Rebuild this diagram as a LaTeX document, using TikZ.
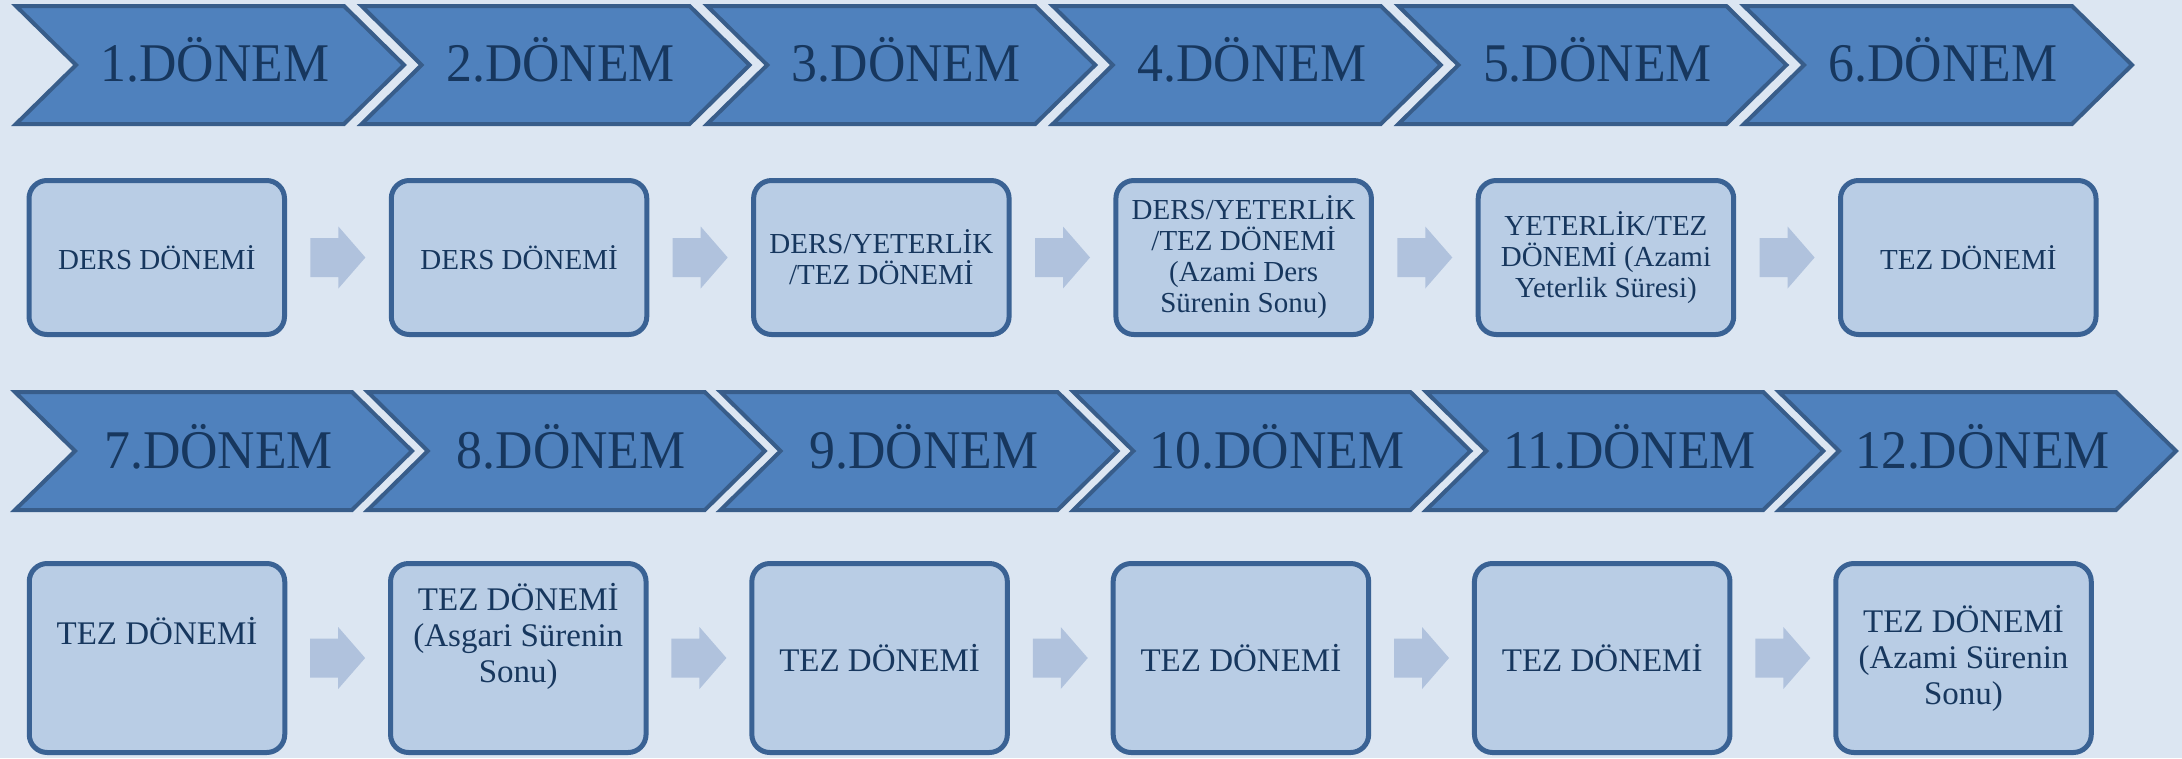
\documentclass[tikz,border=0pt]{standalone}
\usepackage{fontspec}
\setmainfont{Liberation Serif}
\newfontfamily\chevfont[FakeStretch=0.95]{Liberation Serif}
\usetikzlibrary{calc}
\definecolor{bgc}{HTML}{DCE6F2}
\definecolor{chevfill}{HTML}{4F81BD}
\definecolor{chevline}{HTML}{385D8A}
\definecolor{boxfill}{HTML}{B9CDE5}
\definecolor{boxline}{HTML}{3A6294}
\definecolor{arrc}{HTML}{B0C2DD}
\definecolor{txt}{HTML}{17375E}
\newcommand\blockarr[2]{%
  \path ($(#1.east)!0.5!(#2.west)$) coordinate (m#1#2);
  \fill[arrc] (m#1#2) ++(-27.5,-19.5) -- ++(28,0) -- ++(0,-11.5) -- ++(27,31)
     -- ++(-27,31) -- ++(0,-11.5) -- ++(-28,0) -- cycle;}
\begin{document}
\begin{tikzpicture}[x=1pt,y=-1pt,
  chev/.style={fill=chevfill, draw=chevline, line width=4pt, line join=miter},
  chevtext/.style={font=\chevfont\fontsize{54.5}{60}\selectfont, text=txt, anchor=base, inner sep=0pt},
  box/.style={draw=boxline, fill=boxfill, line width=5pt, rounded corners=18pt,
     minimum width=255.5pt, inner sep=0pt, text=txt, align=center},
  boxa/.style={box, minimum height=154pt, font=\fontsize{29}{31}\selectfont},
  boxb/.style={box, minimum height=189pt, font=\fontsize{33}{36}\selectfont},
  txtb/.style={text=txt, align=center, inner sep=0pt, font=\fontsize{33}{36}\selectfont}]
\fill[bgc] (0,0) rectangle (2182,758);
\useasboundingbox (0,0) rectangle (2182,758);

% row 1 chevrons
\foreach \i in {1,...,6} {
  \pgfmathsetmacro\xl{16+(\i-1)*345.6}
  \pgfmathsetmacro\xr{\xl+388}
  \draw[chev] (\xl,6) -- (\xr-60,6) -- (\xr,65) -- (\xr-60,124) -- (\xl,124) -- (\xl+60,65) -- cycle;
  \node[chevtext] (c\i) at ({(\xl+\xr)/2+5},81.5) {\i.DÖNEM};
}
% row 2 chevrons
\foreach \i in {7,...,12} {
  \pgfmathsetmacro\xl{15+(\i-7)*352.8}
  \pgfmathsetmacro\xr{\xl+397}
  \draw[chev] (\xl,392) -- (\xr-60,392) -- (\xr,451) -- (\xr-60,510) -- (\xl,510) -- (\xl+60,451) -- cycle;
  \node[chevtext] (c\i) at ({(\xl+\xr)/2+5},468) {\i.DÖNEM};
}

% row 1 boxes
\node[boxa] (b1) at (156.75,257.5) {DERS DÖNEMİ};
\node[boxa] (b2) at (519.05,257.5) {DERS DÖNEMİ};
\node[boxa] (b3) at (881.35,257.5) {DERS/YETERLİK\\/TEZ DÖNEMİ};
\node[boxa] (b4) at (1243.65,257.5) {DERS/YETERLİK\\/TEZ DÖNEMİ\\(Azami Ders\\Sürenin Sonu)};
\node[boxa] (b5) at (1605.95,257.5) {YETERLİK/TEZ\\DÖNEMİ (Azami\\Yeterlik Süresi)};
\node[boxa] (b6) at (1968.25,257.5) {TEZ DÖNEMİ};

% row 2 boxes
\node[boxb] (b7) at (157,658) {};
\node[txtb] (t7) at (157,631) {TEZ DÖNEMİ};
\node[boxb] (b8) at (518.3,658) {};
\node[txtb] (t8) at (518.3,636) {TEZ DÖNEMİ\\(Asgari Sürenin\\Sonu)};
\node[boxb] (b9) at (879.6,658) {TEZ DÖNEMİ};
\node[boxb] (b10) at (1240.9,658) {TEZ DÖNEMİ};
\node[boxb] (b11) at (1602.2,658) {TEZ DÖNEMİ};
\node[boxb] (b12) at (1963.5,658) {TEZ DÖNEMİ\\(Azami Sürenin\\Sonu)};

% block arrows
\blockarr{b1}{b2}
\blockarr{b2}{b3}
\blockarr{b3}{b4}
\blockarr{b4}{b5}
\blockarr{b5}{b6}
\blockarr{b7}{b8}
\blockarr{b8}{b9}
\blockarr{b9}{b10}
\blockarr{b10}{b11}
\blockarr{b11}{b12}
\end{tikzpicture}
\end{document}
